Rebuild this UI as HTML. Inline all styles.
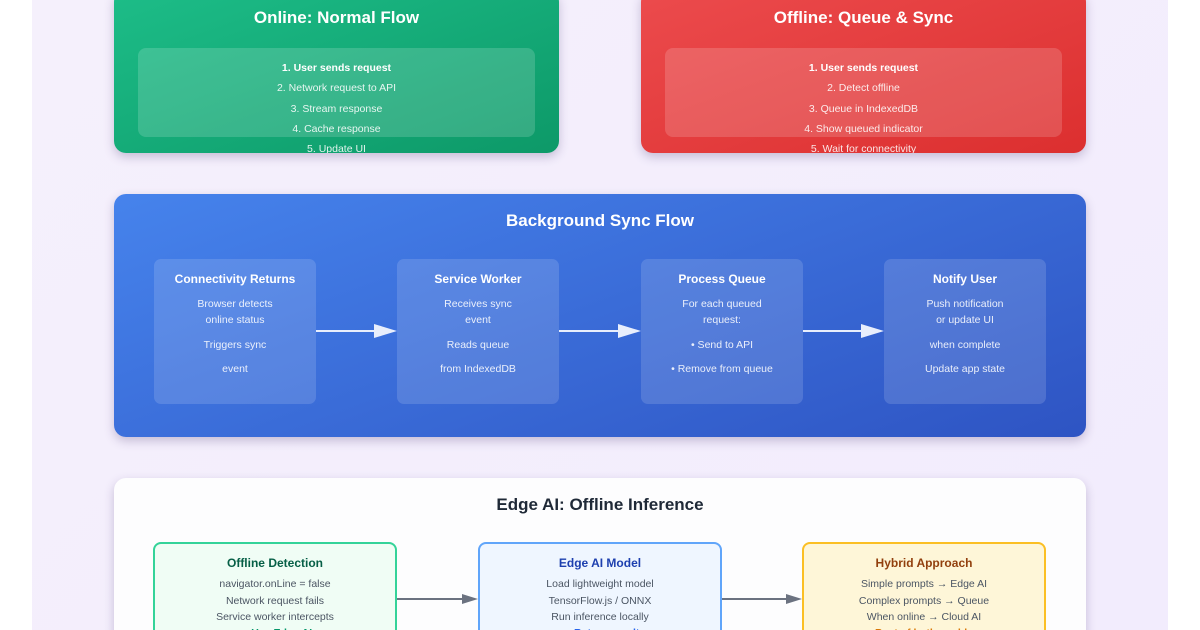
<!DOCTYPE html>
<html style="width:1200px;height:630px;overflow:hidden"><head><meta charset="utf-8"><style>
*{margin:0;padding:0;box-sizing:border-box}
body{width:1200px;height:630px;overflow:hidden;background:#fff;font-family:"Liberation Sans",sans-serif;position:relative}
.bg{position:absolute;left:32px;top:0;width:1136px;height:630px;background:linear-gradient(135deg,#f5f0fc,#f2ecfd)}
.card{position:absolute;border-radius:12px;overflow:hidden;box-shadow:0 4px 10px rgba(60,40,100,.25);color:#fff;text-align:center}
.ttl{position:absolute;left:0;right:0;font-weight:bold}
.inner{position:absolute;left:24px;right:24px;top:58px;height:89px;border-radius:8px;background:rgba(255,255,255,.16)}
.ln{position:absolute;left:0;right:0;font-size:10.5px;color:rgba(255,255,255,.88)}
.sb{position:absolute;top:65px;width:162px;height:145px;border-radius:7px;background:rgba(255,255,255,.14)}
.sb .t{position:absolute;left:0;right:0;top:13px;font-size:12px;font-weight:bold}
.sb .l{position:absolute;left:0;right:0;font-size:10.5px;color:rgba(255,255,255,.88)}
.eb{position:absolute;top:64px;height:110px;border:2px solid;border-radius:8px}
.eb .t{position:absolute;left:0;right:0;top:12px;font-size:12px;font-weight:bold}
.eb .l{position:absolute;left:0;right:0;font-size:10.5px;color:#4b5563}
</style></head><body>
<div class="bg"></div>

<div class="card" style="left:114px;top:-10px;width:445px;height:163px;background:linear-gradient(160deg,#1dbd88,#0d9968)">
<div class="ttl" style="top:18px;font-size:17px">Online: Normal Flow</div>
<div class="inner"></div>
<div class="ln" style="top:72px;font-weight:bold;color:#fff">1. User sends request</div>
<div class="ln" style="top:92px">2. Network request to API</div>
<div class="ln" style="top:113px">3. Stream response</div>
<div class="ln" style="top:133px">4. Cache response</div>
<div class="ln" style="top:153px">5. Update UI</div>
</div>

<div class="card" style="left:641px;top:-10px;width:445px;height:163px;background:linear-gradient(160deg,#ec4b4d,#dc2f2f)">
<div class="ttl" style="top:18px;font-size:17px">Offline: Queue &amp; Sync</div>
<div class="inner"></div>
<div class="ln" style="top:72px;font-weight:bold;color:#fff">1. User sends request</div>
<div class="ln" style="top:92px">2. Detect offline</div>
<div class="ln" style="top:113px">3. Queue in IndexedDB</div>
<div class="ln" style="top:133px">4. Show queued indicator</div>
<div class="ln" style="top:153px">5. Wait for connectivity</div>
</div>

<div class="card" style="left:114px;top:194px;width:972px;height:243px;background:linear-gradient(160deg,#4683ec,#2e54c3)">
<div class="ttl" style="top:17px;font-size:17px">Background Sync Flow</div>
<div class="sb" style="left:40px"><div class="t">Connectivity Returns</div>
<div class="l" style="top:39px">Browser detects</div><div class="l" style="top:55px">online status</div>
<div class="l" style="top:80px">Triggers sync</div><div class="l" style="top:104px">event</div></div>
<div class="sb" style="left:283px"><div class="t">Service Worker</div>
<div class="l" style="top:39px">Receives sync</div><div class="l" style="top:55px">event</div>
<div class="l" style="top:80px">Reads queue</div><div class="l" style="top:104px">from IndexedDB</div></div>
<div class="sb" style="left:527px"><div class="t">Process Queue</div>
<div class="l" style="top:39px">For each queued</div><div class="l" style="top:55px">request:</div>
<div class="l" style="top:80px">• Send to API</div><div class="l" style="top:104px">• Remove from queue</div></div>
<div class="sb" style="left:770px"><div class="t">Notify User</div>
<div class="l" style="top:39px">Push notification</div><div class="l" style="top:55px">or update UI</div>
<div class="l" style="top:80px">when complete</div><div class="l" style="top:104px">Update app state</div></div>
<svg style="position:absolute;left:0;top:0" width="972" height="243">
<g fill="#e8eefc" stroke="#e8eefc" stroke-width="2">
<line x1="202" y1="137" x2="262" y2="137"/><polygon points="260,130 283,137 260,144" stroke="none"/>
<line x1="445" y1="137" x2="506" y2="137"/><polygon points="504,130 527,137 504,144" stroke="none"/>
<line x1="689" y1="137" x2="749" y2="137"/><polygon points="747,130 770,137 747,144" stroke="none"/>
</g></svg>
</div>

<div class="card" style="left:114px;top:478px;width:972px;height:170px;background:#fdfdfe;color:#1f2937">
<div class="ttl" style="top:17px;font-size:17px">Edge AI: Offline Inference</div>
<div class="eb" style="left:39px;width:244px;border-color:#34d399;background:#f0fdf5"><div class="t" style="color:#065f46">Offline Detection</div>
<div class="l" style="top:34px">navigator.onLine = false</div><div class="l" style="top:51px">Network request fails</div>
<div class="l" style="top:67px">Service worker intercepts</div><div class="l" style="top:83px;color:#059669;font-weight:bold">→ Use Edge AI</div></div>
<div class="eb" style="left:364px;width:244px;border-color:#60a5fa;background:#eff6ff"><div class="t" style="color:#1e40af">Edge AI Model</div>
<div class="l" style="top:34px">Load lightweight model</div><div class="l" style="top:51px">TensorFlow.js / ONNX</div>
<div class="l" style="top:67px">Run inference locally</div><div class="l" style="top:83px;color:#2563eb;font-weight:bold">→ Return result</div></div>
<div class="eb" style="left:688px;width:244px;border-color:#fbbf24;background:#fef6d8"><div class="t" style="color:#92400e">Hybrid Approach</div>
<div class="l" style="top:34px">Simple prompts → Edge AI</div><div class="l" style="top:51px">Complex prompts → Queue</div>
<div class="l" style="top:67px">When online → Cloud AI</div><div class="l" style="top:83px;color:#d97706;font-weight:bold">Best of both worlds</div></div>
<svg style="position:absolute;left:0;top:0" width="972" height="170">
<g fill="#6b7280" stroke="#6b7280" stroke-width="2">
<line x1="283" y1="121" x2="350" y2="121"/><polygon points="348,116 364,121 348,126" stroke="none"/>
<line x1="608" y1="121" x2="674" y2="121"/><polygon points="672,116 688,121 672,126" stroke="none"/>
</g></svg>
</div>
</body></html>
